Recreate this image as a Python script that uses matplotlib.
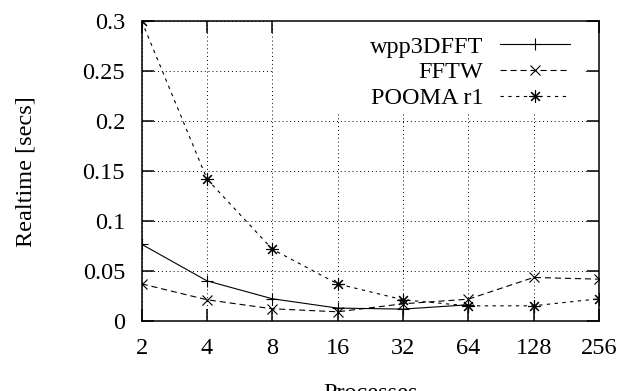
import matplotlib
matplotlib.use("Agg")
import matplotlib.pyplot as plt
from matplotlib.patches import Rectangle

# --- DATOS ---
procs = [2, 4, 8, 16, 32, 64, 128, 256]
procs_wpp = [2, 4, 8, 16, 32, 64]
wpp3dfft = [0.077, 0.0405, 0.0226, 0.0133, 0.0123, 0.0166]
fftw = [0.0375, 0.0216, 0.0126, 0.0096, 0.0176, 0.0222, 0.0439, 0.0422]
pooma = [0.300, 0.1422, 0.0721, 0.0375, 0.0216, 0.0155, 0.0156, 0.0226]
yticks = [0, 0.05, 0.1, 0.15, 0.2, 0.25, 0.3]
ytick_labels = ["0", "0.05", "0.1", "0.15", "0.2", "0.25", "0.3"]

plt.rcParams['font.family'] = ['Liberation Serif', 'DejaVu Serif']
plt.rcParams['font.size'] = 17.5

fig = plt.figure(figsize=(6.22, 3.91), dpi=100)
ax = fig.add_axes([0.2278, 0.178, 0.7352, 0.768])

lw = 0.8
ax.plot(procs_wpp, wpp3dfft, color='black', lw=lw, marker='+', ms=8, mew=0.8,
        label='wpp3DFFT', zorder=3)
ax.plot(procs, fftw, color='black', lw=lw, ls=(0, (5.5, 3.5)), marker='x', ms=7, mew=0.8,
        label='FFTW', zorder=3)
ax.plot(procs, pooma, color='black', lw=lw, ls=(0, (3, 4)), marker=(8, 2, 0), ms=9, mew=0.8,
        label='POOMA r1', zorder=3)

ax.set_xscale('log', base=2)
ax.set_xlim(2, 256)
ax.set_xticks(procs)
ax.set_xticklabels([str(p) for p in procs])
ax.minorticks_off()
ax.set_ylim(0, 0.3)
ax.set_yticks(yticks)
ax.set_yticklabels(ytick_labels)

ax.grid(True, color='black', ls=(0, (1, 3)), lw=0.7)
ax.set_axisbelow(True)
for s in ax.spines.values():
    s.set_linewidth(1.1)
ax.tick_params(direction='in', length=8.5, width=1.1, top=True, right=True, pad=12)
ax.tick_params(axis='y', pad=12)

# fondo blanco de la leyenda (tapa la rejilla)
ax.add_patch(Rectangle((0.287, 0.697), 0.678, 0.303, transform=ax.transAxes,
                       facecolor='white', edgecolor='none', zorder=1))

ax.legend(loc='upper right', bbox_to_anchor=(0.936, 0.952), frameon=False,
          markerfirst=False, handlelength=2.85, handletextpad=0.7,
          labelspacing=0.16, borderpad=0, borderaxespad=0)

ax.set_ylabel('Realtime [secs]')
ax.yaxis.set_label_coords(-0.229, 0.5)
ax.set_xlabel('Processes')
ax.xaxis.set_label_coords(0.5, -0.205)

fig.savefig('out.png', dpi=100)
